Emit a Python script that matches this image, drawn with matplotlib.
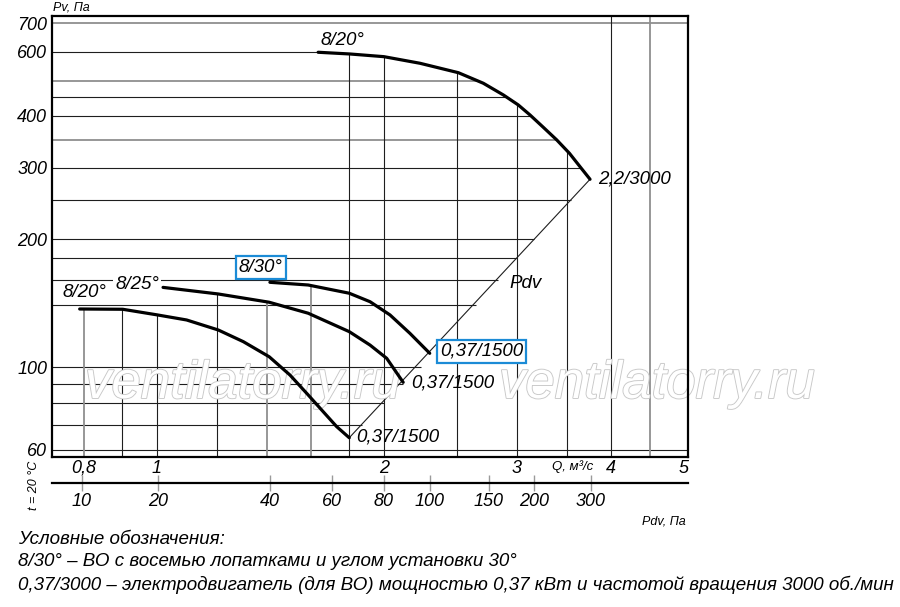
import numpy as np
import matplotlib
matplotlib.use('Agg')
import matplotlib.pyplot as plt
import matplotlib.patheffects as pe
from matplotlib.ticker import NullLocator

plt.rcParams['font.family'] = ['Liberation Sans', 'DejaVu Sans']
plt.rcParams['font.style'] = 'italic'

# характеристики: Q, м3/с  и  Pv, Па
q_820_3000 = [1.636, 1.803, 2.0, 2.233, 2.51, 2.709, 2.88, 3.014, 3.124, 3.253, 3.39, 3.523, 3.639, 3.752]
p_820_3000 = [599, 592.5, 582.5, 558.6, 526.3, 492.2, 457, 429, 402.6, 375.8, 350.3, 325.5, 302.2, 281.3]

q_830_1500 = [1.412, 1.587, 1.799, 1.917, 2.037, 2.165, 2.30]
p_830_1500 = [158.2, 155.9, 149.1, 142.4, 132.6, 120.0, 107.7]

q_825_1500 = [1.019, 1.206, 1.409, 1.587, 1.799, 1.917, 2.017, 2.121]
p_825_1500 = [153.9, 148.5, 142.0, 133.8, 121.1, 112.6, 104.8, 91.0]

q_820_1500 = [0.79, 0.901, 1.001, 1.095, 1.206, 1.302, 1.409, 1.501, 1.587, 1.662, 1.731, 1.799]
p_820_1500 = [136.9, 136.7, 132.6, 129.0, 122.2, 114.7, 105.7, 95.2, 84.2, 75.9, 69.3, 64.7]

# оси
q_ticks = [0.8, 1, 2, 3, 4, 5]
q_labels = ['0,8', '1', '2', '3', '4', '5']
p_ticks = [60, 100, 200, 300, 400, 600, 700]
pdv_labels = ['10', '20', '40', '60', '80', '100', '150', '200', '300']
pdv_q = [0.795, 1.003, 1.412, 1.706, 2.0, 2.30, 2.756, 3.16, 3.76]

# сетка
h_lines = [60, 70, 80, 90, 100, 140, 160, 180, 200, 250, 300, 350, 400, 450, 500, 600, 700]
h_gray = [350, 500, 700]
v_lines = [0.8, 0.9, 1.0, 1.2, 1.4, 1.6, 1.8, 2.0, 2.5, 3.0, 3.5, 4.0, 4.5]
v_gray = [0.8, 1.4, 1.6, 4.5]

# шкала давления на номограмме (неравномерная логарифмическая)
scale_p = np.log10([57.5, 60, 100, 200, 300, 400, 600, 700, 726])
scale_h = [-7, 0, 83, 211, 282, 334, 398, 427, 434]


def fwd(v):
    v = np.asarray(v, dtype=float)
    return np.interp(np.log10(np.maximum(v, 1e-6)), scale_p, scale_h)


def inv(h):
    return 10 ** np.interp(np.asarray(h, dtype=float), scale_h, scale_p)


BLUE = '#1b8bd6'
XMIN, XMAX = 0.726, 5.06
YMIN, YMAX = 57.5, 726

fig = plt.figure(figsize=(9, 6.07), dpi=100)
ax = fig.add_axes([52 / 900, 1 - 457 / 607, 636 / 900, 441 / 607])
ax.set_xscale('log')
ax.set_yscale('function', functions=(fwd, inv))
ax.set_xlim(XMIN, XMAX)
ax.set_ylim(YMIN, YMAX)

curves = [(q_820_3000, p_820_3000), (q_830_1500, p_830_1500),
          (q_825_1500, p_825_1500), (q_820_1500, p_820_1500)]

# линия Pdv через концы характеристик
ends = sorted((c[0][-1], c[1][-1]) for c in curves)
diag_q = [ends[0][0], ends[-1][0]]
diag_p = [ends[0][1], ends[-1][1]]


def right_end(p):
    if p in (60, 700):
        return XMAX
    if p >= p_820_3000[-1]:
        return 10 ** np.interp(np.log10(p), np.log10(p_820_3000[::-1]), np.log10(q_820_3000[::-1]))
    return 10 ** np.interp(np.log10(p), np.log10(diag_p), np.log10(diag_q))


def top_at(q):
    vals = []
    for cq, cp in curves:
        v = np.interp(np.log10(q), np.log10(cq), np.log10(cp), left=np.nan, right=np.nan)
        if not np.isnan(v):
            vals.append(v)
    return 10 ** max(vals) if vals else YMAX


for p in h_lines:
    gray = p in h_gray
    ax.plot([XMIN, right_end(p)], [p, p], color='#8f8f8f' if gray else '#1e1e1e',
            lw=1.3 if gray else 0.8, zorder=2, solid_capstyle='butt')
for q in v_lines:
    gray = q in v_gray
    ax.plot([q, q], [YMIN, top_at(q)], color='#8f8f8f' if gray else '#1e1e1e',
            lw=1.3 if gray else 0.8, zorder=2, solid_capstyle='butt')

ax.plot(diag_q, diag_p, color='#1e1e1e', lw=0.8, zorder=3)
for cq, cp in curves:
    ax.plot(cq, cp, color='black', lw=2.3, zorder=4, solid_capstyle='round',
            solid_joinstyle='round')

# водяной знак
for xc in (243, 657):
    ax.text(xc / 900, 1 - 384 / 607, 'ventilatorry.ru', fontsize=38, color='white',
            ha='center', va='center', zorder=3, transform=fig.transFigure, clip_on=False,
            path_effects=[pe.Stroke(linewidth=1.3, foreground='#c8c8c8'), pe.Normal()])


def lbl(q, p, s, dx, dy, ha='left', box=None):
    kw = {}
    if box == 'blue':
        kw['bbox'] = dict(boxstyle='square,pad=0.15', fc='white', ec=BLUE, lw=1.6)
    elif box == 'white':
        kw['bbox'] = dict(boxstyle='square,pad=0.1', fc='white', ec='none')
    ax.annotate(s, (q, p), xytext=(dx, dy), textcoords='offset pixels',
                ha=ha, va='center', fontsize=13.5, zorder=6, **kw)


lbl(q_820_3000[0], p_820_3000[0], '8/20°', 2, 12)
lbl(q_820_3000[-1], p_820_3000[-1], '2,2/3000', 8, 0)
lbl(q_830_1500[0], p_830_1500[0], '8/30°', -9, 15, ha='center', box='blue')
lbl(q_825_1500[0], p_825_1500[0], '8/25°', -4, 3, ha='right', box='white')
lbl(q_820_1500[0], p_820_1500[0], '8/20°', 5, 17, ha='center', box='white')
lbl(q_830_1500[-1], p_830_1500[-1], '0,37/1500', 10, 2, box='blue')
lbl(q_825_1500[-1], p_825_1500[-1], '0,37/1500', 8, -1)
lbl(q_820_1500[-1], p_820_1500[-1], '0,37/1500', 7, 1)
ax.text(3.08, 157, 'Pdv', fontsize=13.5, ha='center', va='center', zorder=6)

ax.set_xticks(q_ticks, labels=q_labels)
ax.set_yticks(p_ticks, labels=[str(v) for v in p_ticks])
ax.xaxis.set_minor_locator(NullLocator())
ax.yaxis.set_minor_locator(NullLocator())
ax.tick_params(axis='x', length=0, labelsize=13, pad=2)
ax.tick_params(axis='y', length=0, labelsize=13, pad=3.5)
for s in ax.spines.values():
    s.set_linewidth(1.6)
    s.set_zorder(7)

# шкала динамического давления
ax2 = fig.add_axes([52 / 900, 1 - 483 / 607, 636 / 900, 0.0005])
ax2.set_xscale('log')
ax2.set_xlim(XMIN, XMAX)
ax2.patch.set_visible(False)
for side in ('top', 'left', 'right'):
    ax2.spines[side].set_visible(False)
ax2.spines['bottom'].set_linewidth(1.6)
ax2.set_yticks([])
ax2.set_xticks(pdv_q, labels=pdv_labels)
ax2.xaxis.set_minor_locator(NullLocator())
ax2.tick_params(axis='x', direction='inout', length=12, width=1, color='#9a9a9a',
                labelsize=13, pad=1)

fig.text(53 / 900, 1 - 7 / 607, 'Pv, Па', fontsize=9, va='center', ha='left')
fig.text(573 / 900, 1 - 467 / 607, 'Q, м³/с', fontsize=9.5, va='center', ha='center')
fig.text(686 / 900, 1 - 522 / 607, 'Pdv, Па', fontsize=9, va='center', ha='right')
fig.text(34 / 900, 1 - 485 / 607, 't = 20 °C', fontsize=9, rotation=90, va='center', ha='center')

fig.text(18 / 900, 1 - 540 / 607, 'Условные обозначения:', fontsize=13.5, va='center')
fig.text(18 / 900, 1 - 562 / 607, '8/30° – ВО с восемью лопатками и углом установки 30°',
         fontsize=13.5, va='center')
fig.text(18 / 900, 1 - 585 / 607,
         '0,37/3000 – электродвигатель (для ВО) мощностью 0,37 кВт и частотой вращения 3000 об./мин',
         fontsize=13.5, va='center')

fig.savefig('out.png', dpi=100, facecolor='white')
